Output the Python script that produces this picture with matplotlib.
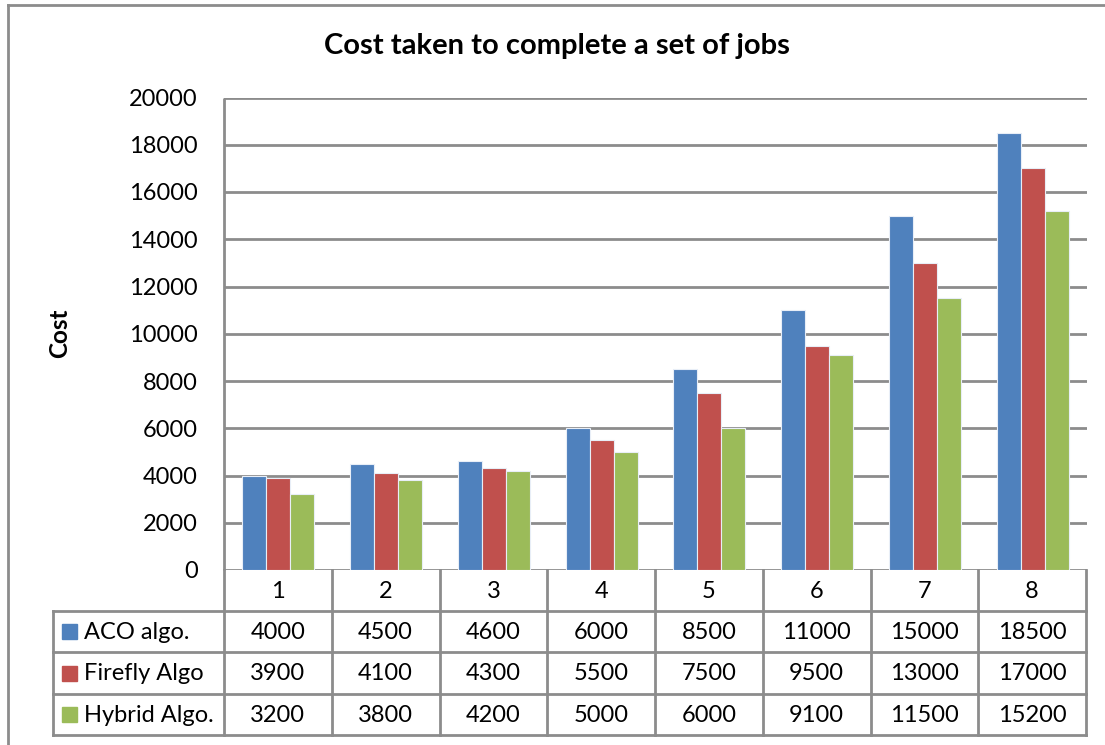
import matplotlib
matplotlib.use("Agg")
import matplotlib.pyplot as plt
from matplotlib.patches import Rectangle

categories = ["1", "2", "3", "4", "5", "6", "7", "8"]
series_names = ["ACO algo.", "Firefly Algo", "Hybrid Algo."]
aco = [4000, 4500, 4600, 6000, 8500, 11000, 15000, 18500]
firefly = [3900, 4100, 4300, 5500, 7500, 9500, 13000, 17000]
hybrid = [3200, 3800, 4200, 5000, 6000, 9100, 11500, 15200]
yticks = [0, 2000, 4000, 6000, 8000, 10000, 12000, 14000, 16000, 18000, 20000]
title = "Cost taken to complete a set of jobs"
ylabel = "Cost"

colors = ["#4F81BD", "#C0504D", "#9BBB59"]
grid_c = "#8c8c8c"
FONT = "Lato"
plt.rcParams["font.family"] = [FONT, "DejaVu Sans"]

W, H = 1105, 745
fig = plt.figure(figsize=(W / 100, H / 100), dpi=100)

# pixel geometry
pl, pr, pt, pb = 224, 1087, 97.5, 570
ax = fig.add_axes([pl / W, (H - pb) / H, (pr - pl) / W, (pb - pt) / H])
n = len(categories)
bw = 1 / (3 + 1.5)
series = [aco, firefly, hybrid]
for i, (vals, c) in enumerate(zip(series, colors)):
    xs = [k + (i - 1) * bw for k in range(n)]
    ax.bar(xs, vals, width=bw, color=c, edgecolor="#e8eef7", linewidth=0.8, zorder=3)
ax.set_xlim(-0.5, n - 0.5)
ax.set_ylim(0, 20000)
ax.set_yticks(yticks)
ax.set_yticklabels([str(v) for v in yticks], fontsize=17)
ax.set_xticks([])
ax.tick_params(axis="y", length=0, pad=19)
for s in ["top", "right", "bottom"]:
    ax.spines[s].set_visible(False)
ax.spines["left"].set_color(grid_c)
ax.spines["left"].set_linewidth(2)
ax.spines["left"].set_capstyle("butt")
ax.grid(axis="y", color=grid_c, linewidth=2, zorder=0)
ax.set_axisbelow(True)
ax.set_facecolor("none")

# overlay in pixel coordinates
ov = fig.add_axes([0, 0, 1, 1])
ov.set_xlim(0, W)
ov.set_ylim(H, 0)
ov.axis("off")
ov.patch.set_alpha(0)

lw = 2
# outer chart border (top and left)
ov.plot([8, W], [5, 5], color=grid_c, lw=lw)
ov.plot([8, 8], [5, H], color=grid_c, lw=lw)

fig.text(557 / W, 1 - 46 / H, title, ha="center", va="center",
         fontsize=21, fontweight="bold")
fig.text(60 / W, 1 - 333 / H, ylabel, ha="center", va="center",
         rotation=90, fontsize=17.5, fontweight="bold")

# data table
colw = (pr - 1 - pl) / n
tl = 53
hdr_top, hdr_bot = pb, 610.5
row_edges = [610.5, 652, 694, 735]
tr = pl + colw * n
for k in range(n + 1):
    x = pl + k * colw
    ov.plot([x, x], [hdr_top, row_edges[-1]], color=grid_c, lw=lw)
ov.plot([tl, tl], [row_edges[0], row_edges[-1]], color=grid_c, lw=lw)
for y in row_edges:
    ov.plot([tl, tr], [y, y], color=grid_c, lw=lw)
for k, cat in enumerate(categories):
    ov.text(pl + (k + 0.5) * colw, (hdr_top + hdr_bot) / 2 + 1, cat,
            ha="center", va="center", fontsize=17)
for r, (name, vals, c) in enumerate(zip(series_names, series, colors)):
    yc = (row_edges[r] + row_edges[r + 1]) / 2
    ov.add_patch(Rectangle((62, yc - 7.5), 15, 15, color=c))
    ov.text(84, yc + 1, name, ha="left", va="center", fontsize=17)
    for k, v in enumerate(vals):
        ov.text(pl + (k + 0.5) * colw, yc + 1, str(v), ha="center",
                va="center", fontsize=17)

fig.savefig("out.png", dpi=100, facecolor="white")
